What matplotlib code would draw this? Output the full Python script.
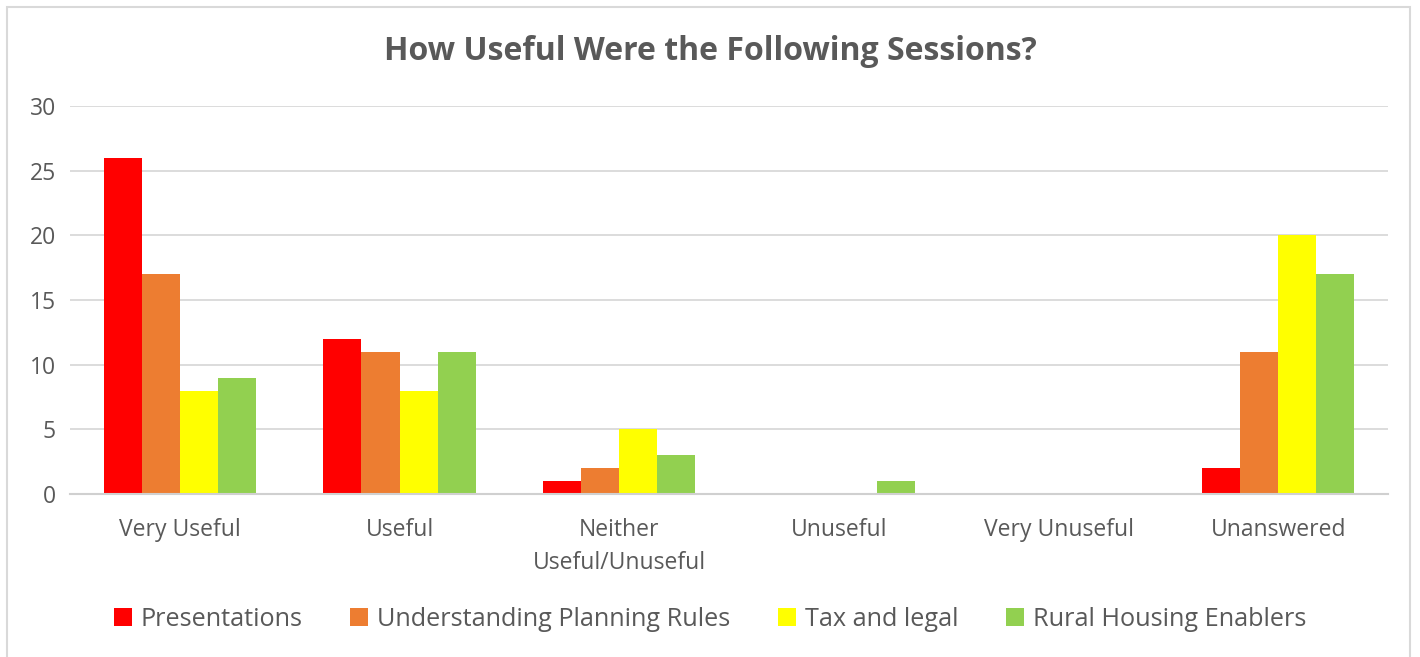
import matplotlib
matplotlib.use("Agg")
import matplotlib.pyplot as plt
import numpy as np
from matplotlib.patches import Rectangle

categories = ["Very Useful", "Useful", "Neither\nUseful/Unuseful", "Unuseful", "Very Unuseful", "Unanswered"]
series_names = ["Presentations", "Understanding Planning Rules", "Tax and legal", "Rural Housing Enablers"]
presentations = [26, 12, 1, 0, 0, 2]
planning_rules = [17, 11, 2, 0, 0, 11]
tax_legal = [8, 8, 5, 0, 0, 20]
rural_housing = [9, 11, 3, 1, 0, 17]
y_ticks = [0, 5, 10, 15, 20, 25, 30]

series = [presentations, planning_rules, tax_legal, rural_housing]
colors = ["#FF0000", "#ED7D31", "#FFFF00", "#92D050"]

plt.rcParams['font.family'] = ['Open Sans', 'DejaVu Sans']
text_color = "#595959"

fig = plt.figure(figsize=(14.2, 6.57), dpi=100)
ax = fig.add_axes([70/1420, 1-494/657, (1388-70)/1420, (494-106)/657])

x = np.arange(len(categories))
bw = 0.173
for i, (vals, c, name) in enumerate(zip(series, colors, series_names)):
    ax.bar(x + (i - 1.5) * bw, vals, width=bw, color=c, label=name, zorder=3)

ax.set_xlim(-0.5, len(categories) - 0.5)
ax.set_ylim(0, 30)
ax.set_yticks(y_ticks)
ax.set_xticks(x)
ax.set_xticklabels(categories, fontsize=16.5, color=text_color, linespacing=1.5)
ax.tick_params(axis='y', labelsize=16.5, colors=text_color, length=0, pad=10)
ax.tick_params(axis='x', length=0, pad=17)
ax.yaxis.grid(True, color="#D9D9D9", linewidth=1.3, zorder=0)
for s in ["top", "right", "left"]:
    ax.spines[s].set_visible(False)
ax.spines["bottom"].set_color("#D0D0D0")
ax.spines["bottom"].set_linewidth(1.5)
ax.spines["bottom"].set_zorder(4)

fig.text(0.5, 1-52/657, "How Useful Were the Following Sessions?", ha='center', va='center',
         fontsize=23, fontweight='bold', color=text_color)

leg = fig.legend(loc='center', bbox_to_anchor=(0.5, 1-619/657), ncol=4, frameon=False,
                 fontsize=18.2, handlelength=0.7, handleheight=0.7, handletextpad=0.35,
                 columnspacing=1.9)
for t in leg.get_texts():
    t.set_color(text_color)

fig.patches.append(Rectangle((7/1420, -0.05), (1410-7)/1420, 1.05 - 7/657, transform=fig.transFigure,
                             fill=False, edgecolor="#D9D9D9", linewidth=1.5))

fig.savefig("out.png", dpi=100)
